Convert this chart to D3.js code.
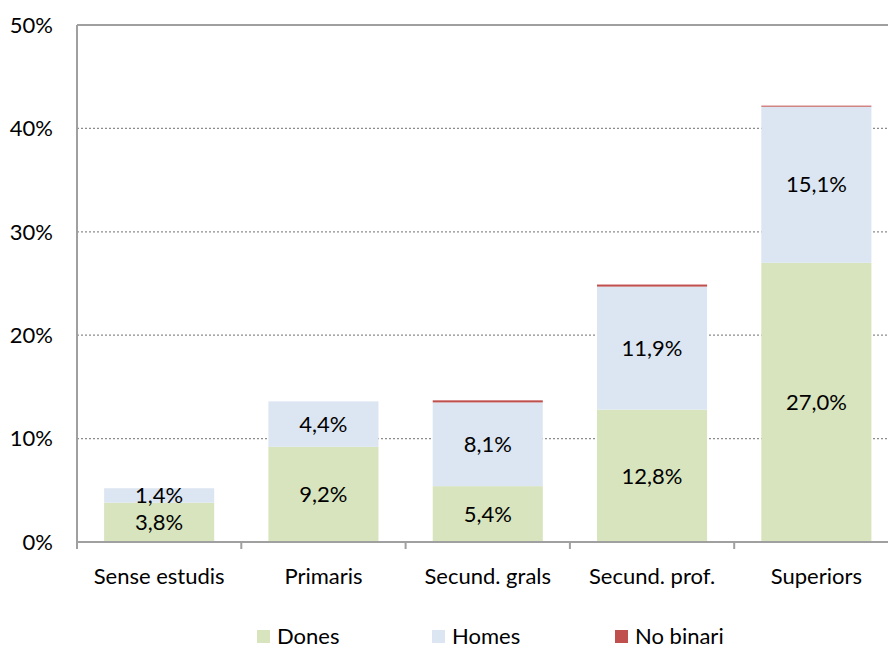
<!DOCTYPE html>
<html>
<head>
<meta charset="utf-8">
<script src="https://cdn.jsdelivr.net/npm/d3@7"></script>
<style>
  body { margin: 0; background: #fff; }
  text { font-family: Lato, "Open Sans", sans-serif; fill: #000; }
</style>
</head>
<body>
<svg id="chart" width="888" height="649"></svg>
<script>
const categories = ['Sense estudis', 'Primaris', 'Secund. grals', 'Secund. prof.', 'Superiors'];
const dones = [3.8, 9.2, 5.4, 12.8, 27.0];
const homes = [1.4, 4.4, 8.1, 11.9, 15.1];
const noBinari = [0, 0, 0.2, 0.2, 0.1];
const seriesNames = ['Dones', 'Homes', 'No binari'];
const seriesColors = ['#d7e4bd', '#dce6f2', '#c0504d'];
const yTicks = [0, 10, 20, 30, 40, 50];

const svg = d3.select('#chart');
const plotLeft = 77, plotRight = 898.5, plotTop = 25, plotBottom = 542;
const fontSize = '22px';

const x = d3.scaleBand().domain(categories).range([plotLeft, plotRight]).paddingInner(0.33).paddingOuter(0.165);
const y = d3.scaleLinear().domain([0, 50]).range([plotBottom, plotTop]);

const rows = categories.map((c, i) => ({ cat: c, Dones: dones[i], Homes: homes[i], 'No binari': noBinari[i] }));
const stacked = d3.stack().keys(seriesNames)(rows);
const fmt = (v) => v.toFixed(1).replace('.', ',') + '%';

// grid
svg.append('g')
	.selectAll('line')
	.data(yTicks.filter((t) => t > 0 && t < 50))
	.join('line')
	.attr('x1', plotLeft).attr('x2', plotRight)
	.attr('y1', (d) => y(d)).attr('y2', (d) => y(d))
	.attr('stroke', '#8c8c8c')
	.attr('stroke-width', 1.2)
	.attr('stroke-dasharray', '2,2');

// bars
stacked.forEach((layer, k) => {
	svg.append('g')
		.selectAll('rect')
		.data(layer)
		.join('rect')
		.attr('x', (d) => x(d.data.cat))
		.attr('width', x.bandwidth())
		.attr('y', (d) => y(d[1]))
		.attr('height', (d) => Math.max(0, y(d[0]) - y(d[1])))
		.attr('fill', seriesColors[k]);
});

// labels for Dones and Homes
stacked.slice(0, 2).forEach((layer) => {
	svg.append('g')
		.selectAll('text')
		.data(layer)
		.join('text')
		.attr('x', (d) => x(d.data.cat) + x.bandwidth() / 2)
		.attr('y', (d) => y((d[0] + d[1]) / 2))
		.attr('dy', '0.35em')
		.attr('text-anchor', 'middle')
		.style('font-size', fontSize)
		.text((d) => fmt(d[1] - d[0]));
});

// frame: top border, left axis, bottom axis
svg.append('line').attr('x1', plotLeft).attr('x2', plotRight).attr('y1', plotTop).attr('y2', plotTop)
	.attr('stroke', '#a0a0a0').attr('stroke-width', 2);
svg.append('line').attr('x1', plotLeft).attr('x2', plotLeft).attr('y1', plotTop).attr('y2', plotBottom)
	.attr('stroke', '#a0a0a0').attr('stroke-width', 2);
svg.append('line').attr('x1', plotLeft - 1).attr('x2', plotRight).attr('y1', plotBottom).attr('y2', plotBottom)
	.attr('stroke', '#a0a0a0').attr('stroke-width', 2);

// category boundary ticks
const step = x.step();
svg.append('g')
	.selectAll('line')
	.data(d3.range(categories.length + 1))
	.join('line')
	.attr('x1', (i) => plotLeft + i * step).attr('x2', (i) => plotLeft + i * step)
	.attr('y1', plotBottom).attr('y2', plotBottom + 7)
	.attr('stroke', '#a0a0a0').attr('stroke-width', 2);

// y tick labels
svg.append('g')
	.selectAll('text')
	.data(yTicks)
	.join('text')
	.attr('x', 53)
	.attr('y', (d) => y(d))
	.attr('dy', '0.35em')
	.attr('text-anchor', 'end')
	.style('font-size', fontSize)
	.text((d) => d + '%');

// x labels
svg.append('g')
	.selectAll('text')
	.data(categories)
	.join('text')
	.attr('x', (d) => x(d) + x.bandwidth() / 2)
	.attr('y', 576)
	.attr('dy', '0.35em')
	.attr('text-anchor', 'middle')
	.style('font-size', fontSize)
	.text((d) => d);

// legend
const legendX = [257, 432, 615];
const legend = svg.append('g')
	.selectAll('g')
	.data(seriesNames)
	.join('g')
	.attr('transform', (d, i) => `translate(${legendX[i]},630)`);
legend.append('rect').attr('width', 13).attr('height', 13).attr('fill', (d, i) => seriesColors[i]);
legend.append('text').attr('x', 20).attr('y', 7).attr('dy', '0.33em')
	.style('font-size', fontSize).text((d) => d);
</script>
</body>
</html>
